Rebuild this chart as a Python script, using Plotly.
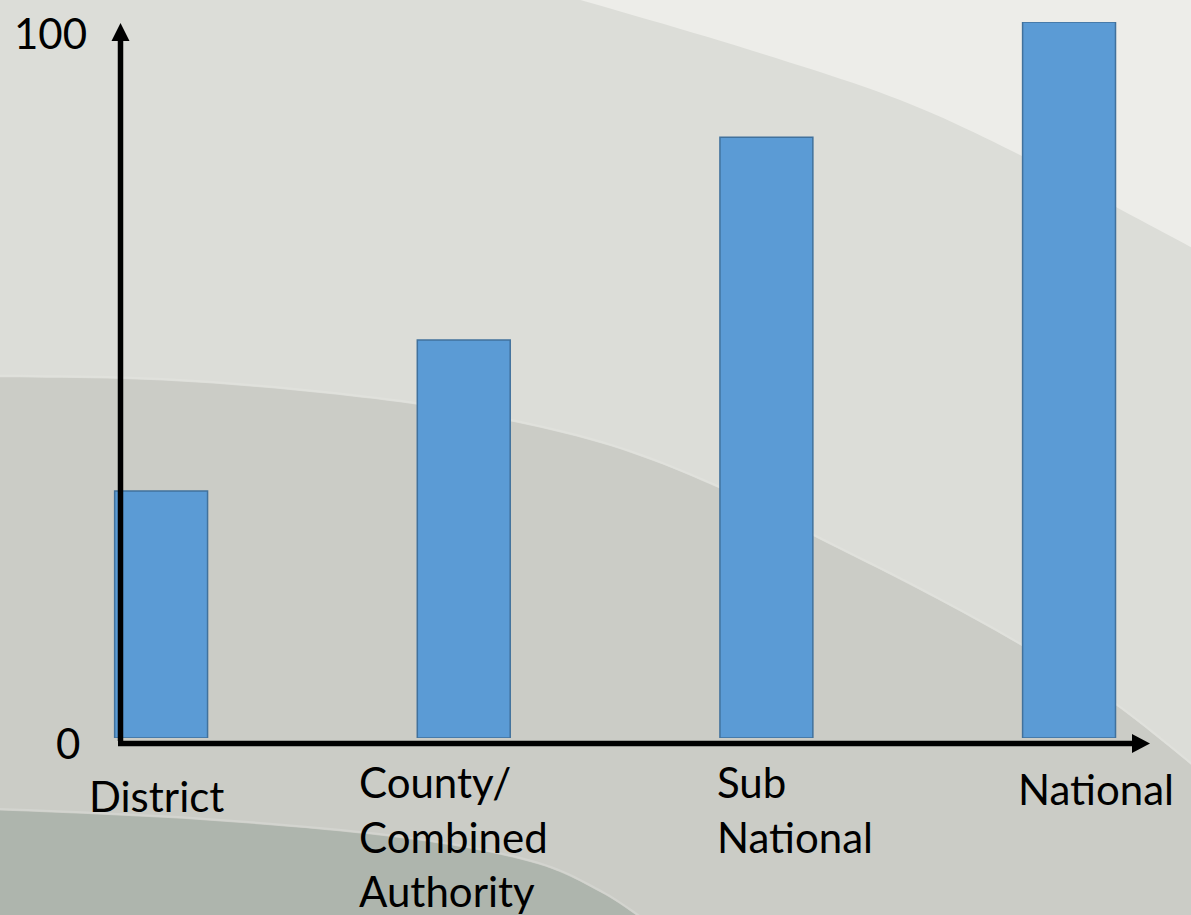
import plotly.graph_objects as go

# ---- data ----
categories = ["District", "County/Combined Authority", "Sub National", "National"]
values = [34.5, 55.6, 83.9, 100]
category_labels = ["District", "County/<br>Combined<br>Authority", "Sub<br>National", "National"]
y_tick_values = [0, 100]
y_tick_labels = ["0", "100"]

W, H = 1191, 915


def px(x, y):
    return x / W, 1 - y / H


def smooth(points, n=12):
    """Catmull-Rom interpolation through control points (for the decorative background)."""
    out = []
    pts = [points[0]] + list(points) + [points[-1]]
    for i in range(1, len(pts) - 2):
        p0, p1, p2, p3 = pts[i - 1], pts[i], pts[i + 1], pts[i + 2]
        for k in range(n):
            t = k / n
            t2, t3 = t * t, t * t * t
            x = 0.5 * ((2 * p1[0]) + (-p0[0] + p2[0]) * t + (2 * p0[0] - 5 * p1[0] + 4 * p2[0] - p3[0]) * t2
                       + (-p0[0] + 3 * p1[0] - 3 * p2[0] + p3[0]) * t3)
            y = 0.5 * ((2 * p1[1]) + (-p0[1] + p2[1]) * t + (2 * p0[1] - 5 * p1[1] + 4 * p2[1] - p3[1]) * t2
                       + (-p0[1] + 3 * p1[1] - 3 * p2[1] + p3[1]) * t3)
            out.append((x, y))
    out.append(points[-1])
    return out


def path_from(points, close=True):
    s = ""
    for i, (x, y) in enumerate(points):
        X, Y = px(x, y)
        s += ("M" if i == 0 else "L") + f"{X:.5f},{Y:.5f} "
    if close:
        s += "Z"
    return s


# plot-area geometry (pixels)
cat0_px, cat_step = 161.1, 302.65
x_rng = [-0.4, 3.35]
x_dom = [(cat0_px + x_rng[0] * cat_step) / W, (cat0_px + x_rng[1] * cat_step) / W]
y_zero_px, y_top_px = 738, 22
y_dom = [1 - y_zero_px / H, 1 - y_top_px / H]

fig = go.Figure()
fig.add_trace(go.Bar(
    x=categories, y=values, width=0.307,
    marker=dict(color="#5B9BD5", line=dict(color="#41719C", width=1.5)),
    hoverinfo="x+y",
))

shapes = []
# ---- background bands ----
top_curve = smooth([(560, -5), (591, 3), (750, 50), (900, 100), (1020, 155), (1116, 207), (1200, 252)])
shapes.append(dict(type="path", xref="paper", yref="paper", layer="below",
                   path=path_from(top_curve + [(1200, -5)]), fillcolor="#EDEDE9", line=dict(width=0)))
mid_curve = smooth([(-10, 377), (150, 380), (300, 391), (450, 410), (600, 443), (721, 489), (821, 540),
                    (920, 590), (1020, 645), (1114, 704), (1200, 772)])
shapes.append(dict(type="path", xref="paper", yref="paper", layer="below",
                   path=path_from(mid_curve + [(1200, 925), (-10, 925)]), fillcolor="#CBCCC6",
                   line=dict(width=0)))
shapes.append(dict(type="path", xref="paper", yref="paper", layer="below",
                   path=path_from([(x, y - 1.5) for x, y in mid_curve], close=False),
                   line=dict(color="#E0E1DC", width=2)))
bottom_curve = smooth([(-10, 810), (200, 820), (400, 838), (530, 862), (600, 892), (650, 925)])
shapes.append(dict(type="path", xref="paper", yref="paper", layer="below",
                   path=path_from(bottom_curve + [(-10, 925)]), fillcolor="#AEB5AD", line=dict(width=0)))
shapes.append(dict(type="path", xref="paper", yref="paper", layer="below",
                   path=path_from([(x, y - 1.5) for x, y in bottom_curve], close=False),
                   line=dict(color="#D3D4CF", width=2)))

# ---- axis arrows ----
axis_x, axis_y = 120.5, 743.5
shapes.append(dict(type="line", xref="paper", yref="paper", layer="above",
                   x0=px(axis_x, 0)[0], x1=px(axis_x, 0)[0], y0=px(0, axis_y - 2.5)[1], y1=px(0, 38)[1],
                   line=dict(color="black", width=5.5)))
shapes.append(dict(type="path", xref="paper", yref="paper", layer="above",
                   path=path_from([(axis_x - 9, 41), (axis_x, 23), (axis_x + 9, 41)]),
                   fillcolor="black", line=dict(width=0)))
shapes.append(dict(type="line", xref="paper", yref="paper", layer="above",
                   x0=px(axis_x - 2.5, 0)[0], x1=px(1135, 0)[0], y0=px(0, axis_y)[1], y1=px(0, axis_y)[1],
                   line=dict(color="black", width=5.5)))
shapes.append(dict(type="path", xref="paper", yref="paper", layer="above",
                   path=path_from([(1132, axis_y - 9.5), (1150, axis_y), (1132, axis_y + 9.5)]),
                   fillcolor="black", line=dict(width=0)))

font = dict(family="Lato, 'Open Sans', sans-serif", size=42, color="black")
annotations = []
# y labels
for val, lab, (rx, cy) in zip(y_tick_values, y_tick_labels, [(82, 743), (89, 33)]):
    X, Y = px(rx, cy)
    annotations.append(dict(text=lab, x=X, y=Y, xref="paper", yref="paper",
                            xanchor="right", yanchor="middle", showarrow=False, font=font))
# category labels
label_pos = [(156, 796, "center"), (357, 836, "left"), (715, 809, "left"), (1096, 789, "center")]
for lab, (lx, ly, anc) in zip(category_labels, label_pos):
    X, Y = px(lx, ly)
    annotations.append(dict(text=lab, x=X, y=Y, xref="paper", yref="paper",
                            xanchor=anc, yanchor="middle", align="left", showarrow=False, font=font))

fig.update_layout(
    width=W, height=H,
    margin=dict(l=0, r=0, t=0, b=0),
    paper_bgcolor="#DCDDD8",
    plot_bgcolor="rgba(0,0,0,0)",
    showlegend=False,
    shapes=shapes,
    annotations=annotations,
    xaxis=dict(domain=x_dom, range=x_rng, showticklabels=False, showgrid=False,
               zeroline=False, showline=False, ticks=""),
    yaxis=dict(domain=y_dom, range=[0, 100], showticklabels=False, showgrid=False,
               zeroline=False, showline=False, ticks=""),
)

fig.write_html("out.html", config={"displayModeBar": False},
               post_script="document.body.style.margin='0';")
